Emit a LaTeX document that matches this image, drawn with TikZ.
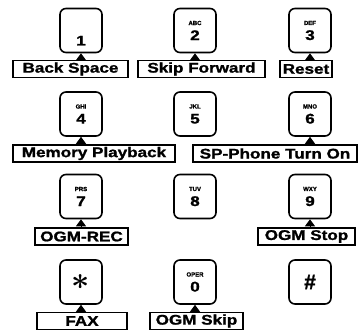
\documentclass[tikz,border=0pt]{standalone}
\usepackage{fontspec}
\setmainfont{Liberation Sans}[BoldFeatures={FakeBold=1.2}]
\usepackage{amsmath,amssymb}
\usepackage{graphicx}
\usepackage{tikz}
\usetikzlibrary{arrows.meta}

\newcommand{\widetxt}[1]{\scalebox{1.22}[1]{#1}}

\begin{document}
\begin{tikzpicture}[x=1pt,y=1pt,line cap=round,
  key/.style={draw,line width=1.6pt,rounded corners=6pt,minimum width=42pt,minimum height=44pt,inner sep=0pt,align=center,font=\fontsize{14}{14}\selectfont\bfseries},
  lbl/.style={draw,line width=1.6pt,minimum height=17pt,inner sep=0pt,font=\fontsize{14}{14}\selectfont\bfseries},
  tri/.style={-{Triangle[width=10pt,length=7pt]},line width=1pt}]
\useasboundingbox (0,0) rectangle (359,332);
% keys
\node[key] (k1) at (81,301.5) {\raisebox{-15pt}[0pt][0pt]{\widetxt{1}}};
\node[key] (k2) at (195,301.5) {{\fontsize{6}{6}\selectfont ABC}\\[1pt]\widetxt{2}};
\node[key] (k3) at (310,301.5) {{\fontsize{6}{6}\selectfont DEF}\\[1pt]\widetxt{3}};
\node[key] (k4) at (81,218) {{\fontsize{6}{6}\selectfont GHI}\\[1pt]\widetxt{4}};
\node[key] (k5) at (195,218) {{\fontsize{6}{6}\selectfont JKL}\\[1pt]\widetxt{5}};
\node[key] (k6) at (310,218) {{\fontsize{6}{6}\selectfont MNO}\\[1pt]\widetxt{6}};
\node[key] (k7) at (81,135.5) {{\fontsize{6}{6}\selectfont PRS}\\[1pt]\widetxt{7}};
\node[key] (k8) at (195,135.5) {{\fontsize{6}{6}\selectfont TUV}\\[1pt]\widetxt{8}};
\node[key] (k9) at (310,135.5) {{\fontsize{6}{6}\selectfont WXY}\\[1pt]\widetxt{9}};
\node[key] (kstar) at (81,50) {\scalebox{2.2}{$\boldsymbol{\ast}$}};
\node[key] (k0) at (195,50) {{\fontsize{6}{6}\selectfont OPER}\\[1pt]\widetxt{0}};
\node[key] (khash) at (310,50) {\scalebox{1.5}{\#}};
% labels
\node[lbl,minimum width=115pt] (backspace) at (70.5,263) {\widetxt{Back Space}};
\node[lbl,minimum width=127pt] (skipfwd) at (201.5,263) {\widetxt{Skip Forward}};
\node[lbl,minimum width=52pt] (reset) at (306,263) {\widetxt{Reset}};
\node[lbl,minimum width=162pt] (memplay) at (94,178.5) {\widetxt{Memory Playback}};
\node[lbl,minimum width=164pt] (spphone) at (275,178.5) {\widetxt{SP-Phone Turn On}};
\node[lbl,minimum width=93pt] (ogmrec) at (81.5,95.5) {\widetxt{OGM-REC}};
\node[lbl,minimum width=97pt] (ogmstop) at (306.5,95.5) {\widetxt{OGM Stop}};
\node[lbl,minimum width=90pt] (fax) at (82,11) {\widetxt{FAX}};
\node[lbl,minimum width=93pt] (ogmskip) at (196.5,11) {\widetxt{OGM Skip}};
% pointers
\draw[tri] (k1.south |- backspace.north) -- (k1.south);
\draw[tri] (k2.south |- skipfwd.north) -- (k2.south);
\draw[tri] (k3.south |- reset.north) -- (k3.south);
\draw[tri] (k4.south |- memplay.north) -- (k4.south);
\draw[tri] (k6.south |- spphone.north) -- (k6.south);
\draw[tri] (k7.south |- ogmrec.north) -- (k7.south);
\draw[tri] (k9.south |- ogmstop.north) -- (k9.south);
\draw[tri] (kstar.south |- fax.north) -- (kstar.south);
\draw[tri] (k0.south |- ogmskip.north) -- (k0.south);
\end{tikzpicture}
\end{document}
